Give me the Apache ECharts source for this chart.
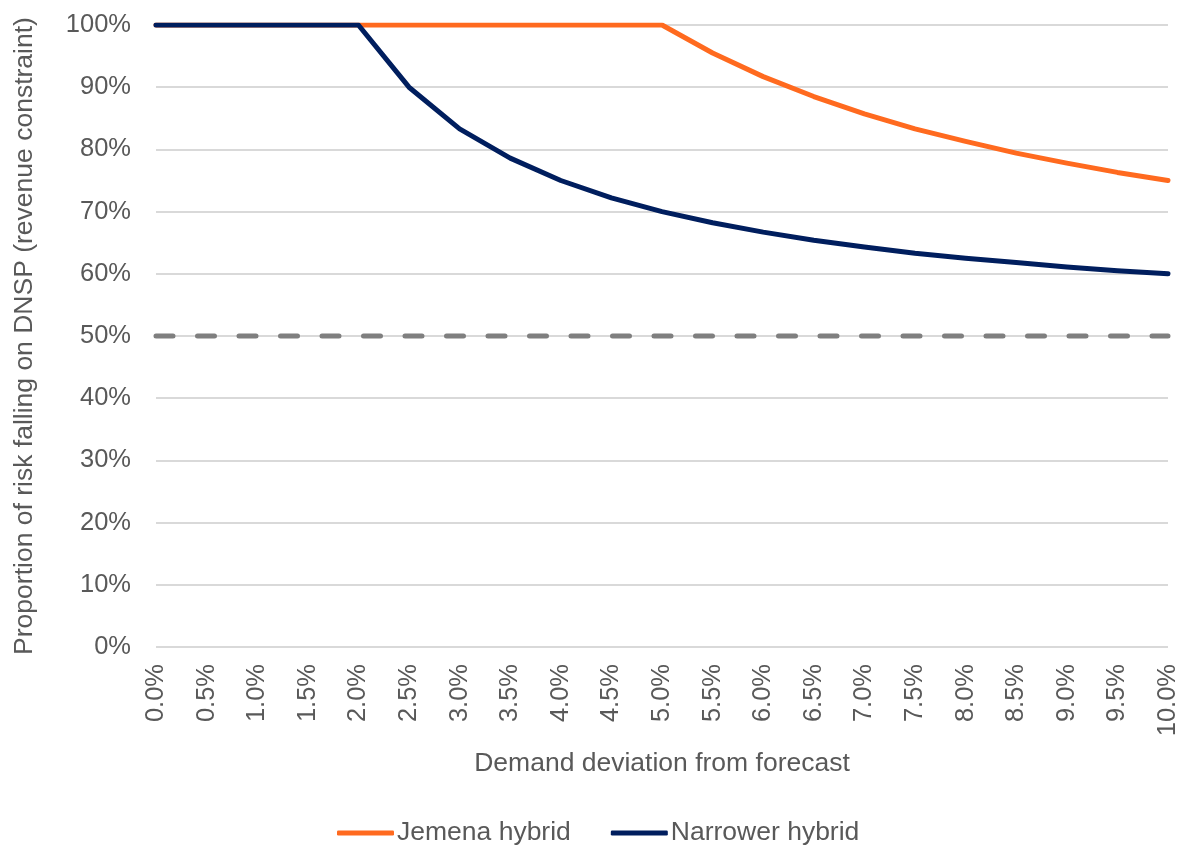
<!DOCTYPE html>
<html>
<head>
<meta charset="utf-8">
<script src="https://cdn.jsdelivr.net/npm/echarts@6/dist/echarts.min.js"></script>
<style>
  html, body { margin: 0; padding: 0; background: #fff; }
  #chart { width: 1181px; height: 846px; }
</style>
</head>
<body>
<div id="chart"></div>
<script>
// Demand deviation categories (x axis)
const categories = ['0.0%','0.5%','1.0%','1.5%','2.0%','2.5%','3.0%','3.5%','4.0%','4.5%','5.0%',
                    '5.5%','6.0%','6.5%','7.0%','7.5%','8.0%','8.5%','9.0%','9.5%','10.0%'];

// Proportion of risk on the DNSP, in percent
const jemenaHybrid = [100,100,100,100,100,100,100,100,100,100,100,
                      95.5,91.7,88.5,85.7,83.3,81.3,79.4,77.8,76.3,75.0];
const narrowerHybrid = [100,100,100,100,100,90.0,83.3,78.6,75.0,72.2,70.0,
                        68.2,66.7,65.4,64.3,63.3,62.5,61.8,61.1,60.5,60.0];
const evenSplit = [50,50,50,50,50,50,50,50,50,50,50,50,50,50,50,50,50,50,50,50,50];

const textColor = '#595959';
const fontFamily = '"Liberation Sans", Arial, sans-serif';
const tickSize = 25.5;
const titleSize = 26.5;

const chart = echarts.init(document.getElementById('chart'), null, { renderer: 'canvas' });
chart.setOption({
  animation: false,
  textStyle: { fontFamily: fontFamily, color: textColor },
  grid: { left: 156, right: 12, top: 25, bottom: 199, containLabel: false },
  legend: {
    data: ['Jemena hybrid', 'Narrower hybrid'],
    top: 818,
    left: 337,
    padding: 0,
    itemWidth: 57,
    itemHeight: 5,
    itemGap: 40,
    icon: 'roundRect',
    textStyle: { fontSize: titleSize, lineHeight: 30, color: textColor, fontFamily: fontFamily, padding: [0, 0, 0, -2] }
  },
  xAxis: {
    type: 'category',
    data: categories,
    boundaryGap: false,
    name: 'Demand deviation from forecast',
    nameLocation: 'middle',
    nameGap: 103,
    nameTextStyle: { fontSize: titleSize, color: textColor, fontFamily: fontFamily },
    axisLine: { show: false },
    axisTick: { show: false },
    axisLabel: { rotate: 90, fontSize: tickSize, color: textColor, margin: 17, interval: 0, fontFamily: fontFamily },
    splitLine: { show: false }
  },
  yAxis: {
    type: 'value',
    min: 0,
    max: 100,
    interval: 10,
    name: 'Proportion of risk falling on DNSP (revenue constraint)',
    nameLocation: 'middle',
    nameGap: 118,
    nameTextStyle: { fontSize: titleSize, color: textColor, fontFamily: fontFamily },
    axisLine: { show: false },
    axisTick: { show: false },
    axisLabel: { formatter: '{value}%', fontSize: tickSize, color: textColor, margin: 25, fontFamily: fontFamily },
    splitLine: { lineStyle: { color: '#D9D9D9', width: 2 } }
  },
  series: [
    {
      name: '50% share',
      type: 'line',
      data: evenSplit,
      symbol: 'none',
      silent: true,
      lineStyle: { color: '#7F7F7F', width: 5, type: [17, 24.5], cap: 'round' },
      z: 1
    },
    {
      name: 'Jemena hybrid',
      type: 'line',
      data: jemenaHybrid,
      symbol: 'none',
      itemStyle: { color: '#FF6A1F' },
      lineStyle: { color: '#FF6A1F', width: 5, cap: 'round', join: 'round' },
      z: 2
    },
    {
      name: 'Narrower hybrid',
      type: 'line',
      data: narrowerHybrid,
      symbol: 'none',
      itemStyle: { color: '#001E5E' },
      lineStyle: { color: '#001E5E', width: 5, cap: 'round', join: 'round' },
      z: 3
    }
  ]
});
</script>
</body>
</html>
